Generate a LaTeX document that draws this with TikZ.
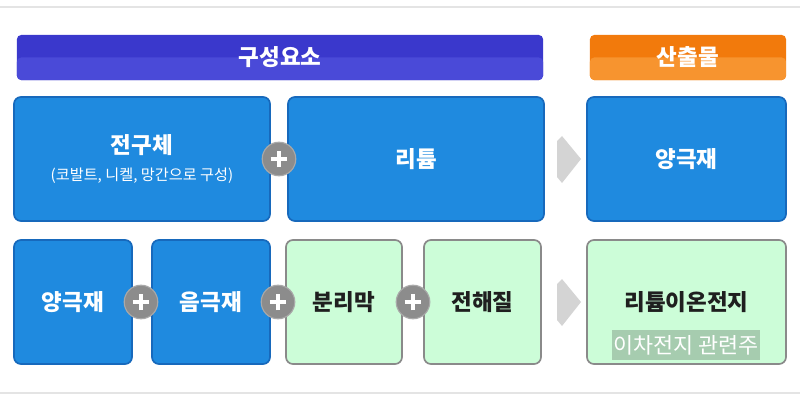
\documentclass[tikz,border=0pt]{standalone}
\usepackage{fontspec}
\setmainfont{Noto Sans CJK KR}
\definecolor{cellblue}{HTML}{1F8ADF}
\definecolor{cellblueedge}{HTML}{1769BC}
\definecolor{cellgreen}{HTML}{CCFDD8}
\definecolor{celledge}{HTML}{8A8A8A}
\definecolor{headviolet}{HTML}{3A38CC}
\definecolor{headvioletlow}{HTML}{4A4AD8}
\definecolor{headorange}{HTML}{F27A0C}
\definecolor{headorangelow}{HTML}{F7942F}
\definecolor{plusgray}{HTML}{8C8C8C}
\definecolor{arrowgray}{HTML}{D4D4D4}
\definecolor{rulegray}{HTML}{E4E4E4}
\definecolor{markgreen}{HTML}{A6CCAF}
\newcommand{\ttlsize}{\fontsize{16}{19}\selectfont\bfseries}
\newcommand{\subsize}{\fontsize{10.8}{13}\selectfont\mdseries}

\begin{document}
\begin{tikzpicture}[
  x=0.025cm,
  y=-0.025cm,
  every node/.style={inner sep=0pt, align=center},
  head/.style n args={2}{fill=#1, rounded corners=3pt, minimum height=1.125cm,
    text=white, font=\ttlsize,
    path picture={\fill[#2] (path picture bounding box.west)
      rectangle (path picture bounding box.south east);}},
  bluecell/.style={draw=cellblueedge, line width=1.2pt, fill=cellblue,
    rounded corners=5pt, minimum height=3.1cm, text=white, font=\ttlsize},
  greencell/.style={draw=celledge, line width=1.2pt, fill=cellgreen,
    rounded corners=5pt, minimum height=3.1cm, text=black!88, font=\ttlsize},
  plus/.style={circle, fill=plusgray, draw=plusgray!75!white, line width=0.8pt,
    minimum size=0.84cm,
    path picture={\draw[white, line width=2.8pt]
      ([xshift=-0.21cm]path picture bounding box.center)
      -- ([xshift=0.21cm]path picture bounding box.center)
      ([yshift=-0.21cm]path picture bounding box.center)
      -- ([yshift=0.21cm]path picture bounding box.center);}},
  flow/.style={fill=arrowgray},
  rule/.style={rulegray, line width=0.8pt}
]
  % ---- page frame --------------------------------------------------------
  \useasboundingbox (0,0) rectangle (800,400);
  \draw[rule] (0,7) -- (800,7);
  \draw[rule] (0,393) -- (800,393);

  % ---- headers -----------------------------------------------------------
  \node[head={headviolet}{headvioletlow}, minimum width=13.15cm] (hparts) at (280,57.5) {구성요소};
  \node[head={headorange}{headorangelow}, minimum width=4.9cm] (hout) at (688,57.5) {산출물};

  % ---- first row: cathode ------------------------------------------------
  \node[bluecell, minimum width=6.4cm] (prec) at (142,159)
    {\raisebox{-1pt}{전구체}\\[1pt]{\subsize (코발트, 니켈, 망간으로 구성)}};
  \node[bluecell, minimum width=6.4cm] (lith) at (416,159) {리튬};
  \node[bluecell, minimum width=4.975cm] (cath) at (686.5,159) {양극재};
  \node[plus] (p1) at (279,159) {};
  \fill[flow] (557,141) -- (562,136) -- (581,159) -- (562,183) -- (557,177) -- cycle;

  % ---- second row: cell --------------------------------------------------
  \node[bluecell, minimum width=2.95cm] (pos) at (73,302) {양극재};
  \node[bluecell, minimum width=2.95cm] (neg) at (211,302) {음극재};
  \node[greencell, minimum width=2.9cm] (sep) at (344,302) {분리막};
  \node[greencell, minimum width=2.925cm] (elec) at (482.5,302) {전해질};
  \node[greencell, minimum width=4.975cm] (batt) at (686.5,302) {리튬이온전지};
  \node[plus] (p2) at (141,302) {};
  \node[plus] (p3) at (278,302) {};
  \node[plus] (p4) at (413,302) {};
  \fill[flow] (557,284) -- (562,279) -- (581,302) -- (562,326) -- (557,320) -- cycle;

  % ---- watermark ---------------------------------------------------------
  \node[fill=markgreen, text=white, font=\fontsize{15.5}{17}\selectfont,
    minimum width=3.7cm, minimum height=0.75cm] (mark) at (686,345) {이차전지 관련주};
\end{tikzpicture}
\end{document}
